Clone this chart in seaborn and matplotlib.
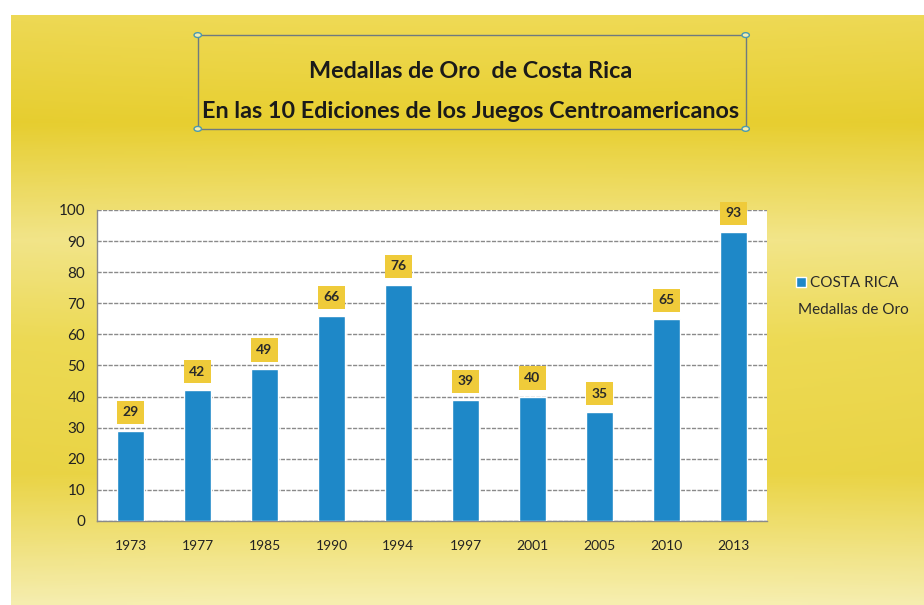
import matplotlib
import numpy as np
import pandas as pd
import seaborn as sns

matplotlib.use("Agg")
import matplotlib.pyplot as plt
from matplotlib.colors import LinearSegmentedColormap
from matplotlib.patches import Rectangle, Circle

years = ["1973", "1977", "1985", "1990", "1994", "1997", "2001", "2005", "2010", "2013"]
medals = [29, 42, 49, 66, 76, 39, 40, 35, 65, 93]
y_ticks = [0, 10, 20, 30, 40, 50, 60, 70, 80, 90, 100]
title_lines = ["Medallas de Oro  de Costa Rica", "En las 10 Ediciones de los Juegos Centroamericanos"]
legend_lines = ["COSTA RICA", "Medallas de Oro"]

BAR_COLOR = "#1E88C8"
LABEL_BG = "#EFCB3A"

sns.set_style("white")
plt.rcParams["font.family"] = ["Lato", "DejaVu Sans"]

df = pd.DataFrame({"year": years, "medals": medals})

fig = plt.figure(figsize=(9.24, 6.05), dpi=100)
fig.patch.set_facecolor("white")

# yellow gradient backdrop (slide background)
bg = fig.add_axes([0.012, 0.0, 0.988, 0.975], zorder=-10)
grad = LinearSegmentedColormap.from_list(
    "slide",
    [(0.0, "#EFDA55"), (0.18, "#E8CF30"), (0.38, "#F3E68A"),
     (0.55, "#EEDB55"), (0.78, "#EBD545"), (1.0, "#F7EFB0")],
)
rows = np.linspace(0, 1, 300).reshape(-1, 1)
cols = 1 - 0.25 * np.abs(np.linspace(-1, 1, 400)) ** 2
img = grad(rows)[:, :, :3] * np.ones((1, 400, 1))
img = img * (0.97 + 0.03 * cols.reshape(1, -1, 1))
bg.imshow(np.clip(img, 0, 1), aspect="auto", extent=[0, 1, 0, 1], origin="upper")
bg.set_axis_off()

ax = fig.add_axes([0.105, 0.139, 0.725, 0.514])
ax.set_facecolor("white")
sns.barplot(data=df, x="year", y="medals", color=BAR_COLOR, width=0.4,
            saturation=1, ax=ax, zorder=3)

ax.set_ylim(0, 100)
ax.set_xlim(-0.5, len(years) - 0.5)
ax.set_yticks(y_ticks)
ax.set_xlabel("")
ax.set_ylabel("")
ax.grid(axis="y", color="#8A8A8A", linewidth=1.0, linestyle=(0, (3, 1)), zorder=0)
for side in ["top", "right"]:
    ax.spines[side].set_visible(False)
for side in ["left", "bottom"]:
    ax.spines[side].set_color("#8A8A8A")
    ax.spines[side].set_linewidth(1.0)

# category-boundary tick marks like a spreadsheet chart
ax.set_xticks(np.arange(len(years)))
ax.set_xticklabels(years)
ax.set_xticks(np.arange(-0.5, len(years)), minor=True)
ax.tick_params(axis="x", which="major", length=0, pad=14, labelsize=10, colors="#222222")
ax.tick_params(axis="x", which="minor", length=5, color="#8A8A8A", direction="out")
ax.tick_params(axis="y", length=5, color="#8A8A8A", direction="out", labelsize=11,
               colors="#222222")

ax.bar_label(ax.containers[0], padding=9, fontsize=10, fontweight="bold", color="#2A2A2A",
             bbox=dict(boxstyle="square,pad=0.4", facecolor=LABEL_BG, edgecolor="none"),
             zorder=5)

# title inside a selection-style box
fig.text(0.509, 0.881, title_lines[0], ha="center", va="center", fontsize=16.8,
         fontweight="bold", color="#1A1A1A")
fig.text(0.509, 0.815, title_lines[1], ha="center", va="center", fontsize=16.8,
         fontweight="bold", color="#1A1A1A")
box = Rectangle((0.214, 0.787), 0.593, 0.155, transform=fig.transFigure, fill=False,
                edgecolor="#6E7A80", linewidth=1.0)
fig.add_artist(box)
for cx, cy in [(0.214, 0.787), (0.807, 0.787), (0.214, 0.942), (0.807, 0.942)]:
    fig.add_artist(Circle((cx, cy), 0.004, transform=fig.transFigure, facecolor="#F4EDB0",
                          edgecolor="#4A9AB0", linewidth=1.0))

leg = ax.legend(handles=[ax.containers[0][0]], labels=[legend_lines[0]],
                loc="center left", bbox_to_anchor=(0.862, 0.532), bbox_transform=fig.transFigure,
                frameon=False, fontsize=11, handlelength=0.6, handleheight=0.6,
                handletextpad=0.3, borderpad=0, borderaxespad=0)
for t in leg.get_texts():
    t.set_color("#2A2A2A")
fig.text(0.864, 0.487, legend_lines[1], ha="left", va="center", fontsize=11, color="#2A2A2A")

fig.savefig("out.png", dpi=100)
plt.close(fig)
